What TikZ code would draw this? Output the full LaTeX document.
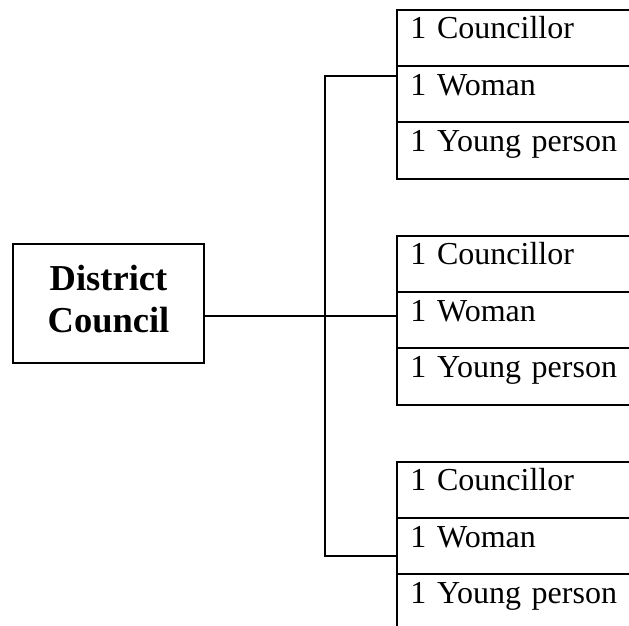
\documentclass[tikz,border=0pt]{standalone}
\usepackage{fontspec}
\setmainfont{Liberation Serif}
\usepackage{tikz}
\usetikzlibrary{positioning}
\tikzset{row/.style={draw, line width=0.8pt, anchor=north west, text width=93pt,
    inner xsep=5.4pt, inner ysep=0pt, outer sep=0pt, text height=11.6pt,
    text depth=10.9pt, align=left, font=\fontsize{12.8}{15}\selectfont}}
\tikzset{council/.style={draw, line width=0.8pt, minimum width=76.4pt,
    minimum height=47.6pt, inner sep=0pt, outer sep=0pt, align=center,
    text depth=4pt, font=\bfseries\fontsize{14.6}{16.8}\selectfont}}
\tikzset{link/.style={draw, line width=0.8pt}}
\begin{document}
\begin{tikzpicture}[x=0.4pt, y=-0.4pt]
  \useasboundingbox (0,0) rectangle (629,626);
  \clip (0,0) rectangle (629,626);

  \node[council] at (108.5, 303.5) (dc) {District\\Council};

  % first group
  \node[row] at (397, 10) (c1) {1 Councillor};
  \node[row, below=0pt of c1] (w1) {1 Woman};
  \node[row, below=0pt of w1] (y1) {1 Young person};

  % second group
  \node[row] at (397, 236) (c2) {1 Councillor};
  \node[row, below=0pt of c2] (w2) {1 Woman};
  \node[row, below=0pt of w2] (y2) {1 Young person};

  % third group
  \node[row] at (397, 462) (c3) {1 Councillor};
  \node[row, below=0pt of c3] (w3) {1 Woman};
  \node[row, below=0pt of w3] (y3) {1 Young person};

  \coordinate (top) at (325, 76);
  \coordinate (mid) at (325, 316);
  \coordinate (bot) at (325, 556);

  \draw[link] (dc.east |- mid) -- (mid) -- (mid -| w2.west);
  \draw[link] (top -| w1.west) -- (top) -- (bot) -- (bot -| w3.west);
\end{tikzpicture}
\end{document}
